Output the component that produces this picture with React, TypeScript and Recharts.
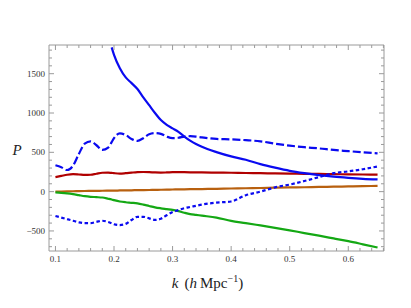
import { LineChart, Line, XAxis, YAxis } from 'recharts';

const K = [
  0.1, 0.11, 0.12, 0.13, 0.14, 0.15, 0.16, 0.17, 0.18, 0.19, 0.196, 0.2, 0.21, 0.22, 0.23, 0.24, 0.25,
  0.26, 0.27, 0.28, 0.29, 0.3, 0.31, 0.32, 0.33, 0.34, 0.35, 0.375, 0.4, 0.425, 0.45, 0.475,
  0.5, 0.525, 0.55, 0.575, 0.6, 0.625, 0.65,
];

const SOLID = [
  null, null, null, null, null, null, null, null, null, null, 1835, 1740, 1570, 1453, 1380, 1305, 1200,
  1100, 1000, 910, 850, 805, 760, 700, 648, 605, 570, 503, 448, 405, 350, 305,
  265, 235, 210, 190, 175, 163, 155,
];

const DASHED = [
  335, 310, 275, 330, 480, 610, 640, 590, 530, 560, 630, 680, 740, 720, 670, 645, 680,
  730, 745, 735, 700, 680, 685, 700, 705, 700, 690, 670, 665, 655, 640, 610,
  585, 565, 550, 530, 515, 500, 487,
];

const DOTTED = [
  -310, -330, -350, -370, -390, -400, -400, -385, -370, -385, -402, -415, -425, -410, -360, -320, -320,
  -340, -360, -345, -300, -260, -235, -210, -195, -180, -165, -140, -125, -45, 0, 55,
  90, 135, 185, 235, 258, 285, 320,
];

const RED = [
  185, 200, 215, 222, 218, 212, 215, 228, 240, 242, 238, 235, 230, 235, 242, 248, 250,
  248, 244, 242, 244, 247, 248, 247, 245, 244, 244, 242, 240, 237, 235, 232,
  230, 227, 225, 222, 220, 218, 216,
];

const BROWN = [
  0, 2, 4, 5, 6, 8, 9, 10, 11, 12, 13, 13, 15, 16, 17, 19, 20,
  21, 23, 24, 25, 27, 28, 29, 31, 32, 33, 36, 40, 43, 46, 50,
  53, 56, 60, 63, 66, 70, 73,
];

const GREEN = [
  -10, -15, -22, -32, -45, -58, -66, -70, -75, -90, -100, -108, -125, -135, -142, -150, -165,
  -183, -200, -212, -222, -232, -248, -268, -285, -295, -305, -330, -372, -400, -430, -460,
  -492, -527, -560, -595, -630, -670, -711,
];

const X_MAJOR = [0.1, 0.2, 0.3, 0.4, 0.5, 0.6];
const X_TICKS = [
  0.1, 0.12, 0.14, 0.16, 0.18, 0.2, 0.22, 0.24, 0.26, 0.28, 0.3, 0.32, 0.34, 0.36, 0.38, 0.4,
  0.42, 0.44, 0.46, 0.48, 0.5, 0.52, 0.54, 0.56, 0.58, 0.6, 0.62, 0.64, 0.66,
];
const Y_MAJOR = [-500, 0, 500, 1000, 1500];
const Y_TICKS = [
  -700, -600, -500, -400, -300, -200, -100, 0, 100, 200, 300, 400, 500, 600, 700, 800, 900,
  1000, 1100, 1200, 1300, 1400, 1500, 1600, 1700, 1800,
];

const data = K.map((k, i) => ({
  k,
  solid: SOLID[i],
  dashed: DASHED[i],
  dotted: DOTTED[i],
  red: RED[i],
  brown: BROWN[i],
  green: GREEN[i],
}));

const FRAME = '#9a9a9a';
const SERIF = '"Liberation Serif", "DejaVu Serif", serif';

const isMajor = (list: number[], v: number) => list.some(m => Math.abs(m - v) < 1e-9);

const fmtY = (v: number) => (v < 0 ? `\u2212${Math.abs(v)}` : `${v}`);

const makeTick = (side: 'bottom' | 'top' | 'left' | 'right') => (props: any) => {
  const { x, y, payload } = props;
  const v = payload.value;
  const major = isMajor(side === 'bottom' || side === 'top' ? X_MAJOR : Y_MAJOR, v);
  const len = major ? 5 : 3;
  let line;
  if (side === 'bottom') line = <line x1={x} y1={y} x2={x} y2={y - len} stroke={FRAME} />;
  else if (side === 'top') line = <line x1={x} y1={y} x2={x} y2={y + len} stroke={FRAME} />;
  else if (side === 'left') line = <line x1={x} y1={y} x2={x + len} y2={y} stroke={FRAME} />;
  else line = <line x1={x} y1={y} x2={x - len} y2={y} stroke={FRAME} />;
  return (
    <g>
      {line}
      {major && side === 'bottom' && (
        <text x={x} y={y + 11} textAnchor="middle" fontSize={9} fontFamily={SERIF} fill="#333">
          {v.toFixed(1)}
        </text>
      )}
      {major && side === 'left' && (
        <text x={x - 4} y={y + 3} textAnchor="end" fontSize={9} fontFamily={SERIF} fill="#333">
          {fmtY(v)}
        </text>
      )}
    </g>
  );
};

const XLabel = (props: any) => {
  const { viewBox } = props;
  const cx = viewBox.x + viewBox.width / 2 - 9;
  return (
    <text x={cx} y={viewBox.y + 37} textAnchor="middle" fontSize={15} fontFamily={SERIF} fill="#222">
      <tspan fontStyle="italic">k</tspan>
      <tspan>{'\u2009\u2009('}</tspan>
      <tspan fontStyle="italic">h</tspan>
      <tspan>{'\u2009Mpc'}</tspan>
      <tspan fontSize={10} dy={-6}>{'\u22121'}</tspan>
      <tspan dy={6}>)</tspan>
    </text>
  );
};

const YLabel = (props: any) => {
  const { viewBox } = props;
  return (
    <text x={viewBox.x - 31} y={viewBox.y + 110} textAnchor="middle" fontSize={15} fontFamily={SERIF} fontStyle="italic" fill="#222">
      P
    </text>
  );
};

export default function App() {
  return (
    <div style={{ width: 411, height: 308, background: '#fff' }}>
      <style>{'body{margin:0}'}</style>
      <LineChart width={411} height={308} data={data} margin={{ top: 44, right: 26, bottom: 56, left: 48 }}>
        <XAxis
          xAxisId="b"
          dataKey="k"
          type="number"
          domain={[0.089, 0.661]}
          ticks={X_TICKS}
          interval={0}
          height={1}
          tickSize={0}
          tickMargin={0}
          tickLine={false}
          axisLine={{ stroke: FRAME }}
          tick={makeTick('bottom')}
          allowDataOverflow
          label={<XLabel />}
        />
        <XAxis
          xAxisId="t"
          orientation="top"
          dataKey="k"
          type="number"
          domain={[0.089, 0.661]}
          ticks={X_TICKS}
          interval={0}
          height={1}
          tickSize={0}
          tickMargin={0}
          tickLine={false}
          axisLine={{ stroke: FRAME }}
          tick={makeTick('top')}
          allowDataOverflow
        />
        <YAxis
          yAxisId="l"
          type="number"
          domain={[-755, 1865]}
          ticks={Y_TICKS}
          interval={0}
          width={1}
          tickSize={0}
          tickMargin={0}
          tickLine={false}
          axisLine={{ stroke: FRAME }}
          tick={makeTick('left')}
          allowDataOverflow
          label={<YLabel />}
        />
        <YAxis
          yAxisId="r"
          orientation="right"
          type="number"
          domain={[-755, 1865]}
          ticks={Y_TICKS}
          interval={0}
          width={1}
          tickSize={0}
          tickMargin={0}
          tickLine={false}
          axisLine={{ stroke: FRAME }}
          tick={makeTick('right')}
          allowDataOverflow
        />
        <Line xAxisId="b" yAxisId="l" type="monotone" dataKey="brown" stroke="#b8600f" strokeWidth={2.2} dot={false} isAnimationActive={false} />
        <Line xAxisId="b" yAxisId="l" type="monotone" dataKey="red" stroke="#b00000" strokeWidth={2.2} dot={false} isAnimationActive={false} />
        <Line xAxisId="b" yAxisId="l" type="monotone" dataKey="green" stroke="#14a814" strokeWidth={2.2} dot={false} isAnimationActive={false} />
        <Line xAxisId="b" yAxisId="l" type="monotone" dataKey="dashed" stroke="#0a0af0" strokeWidth={2.2} strokeDasharray="8 3" dot={false} isAnimationActive={false} />
        <Line xAxisId="b" yAxisId="l" type="monotone" dataKey="dotted" stroke="#0a0af0" strokeWidth={2.2} strokeDasharray="3.5 2.5" dot={false} isAnimationActive={false} />
        <Line xAxisId="b" yAxisId="l" type="monotone" dataKey="solid" stroke="#0a0af0" strokeWidth={2.2} dot={false} isAnimationActive={false} connectNulls={false} />
      </LineChart>
    </div>
  );
}
